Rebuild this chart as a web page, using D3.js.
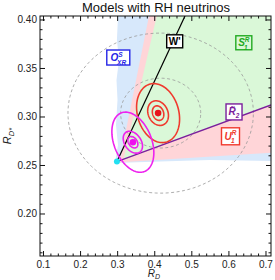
<!DOCTYPE html>
<html><head><meta charset="utf-8">
<script src="https://cdn.jsdelivr.net/npm/d3@7"></script>
<style>body{margin:0;background:#fff}svg{display:block}text{font-family:"Liberation Sans",Arial,sans-serif}</style>
</head><body>
<script>
// ---- data ----
const title = "Models with RH neutrinos";
const xTicks = [0.1, 0.2, 0.3, 0.4, 0.5, 0.6, 0.7];
const yTicks = [0.20, 0.25, 0.30, 0.35, 0.40];
const smPoint = [0.298, 0.254];
const redCenter = [0.409, 0.304];
const redSizes = [[0.058, 0.0304], [0.028, 0.0127], [0.0155, 0.0075]];
const redRho = -0.2;
const magCenter = [0.341, 0.274];
const magSizes = [[0.0566, 0.031], [0.026, 0.0113], [0.0135, 0.0059]];
const magRho = -0.35;
const fitCenter = [0.416, 0.304];
const fitSizes = [[0.108, 0.036], [0.25, 0.0825]];
const blueRegion = [[0.301,0.4041],[0.298,0.3794],[0.3036,0.3588],[0.2969,0.3381],[0.2996,0.3175],[0.2955,0.2918],[0.3009,0.2711],[0.2928,0.2526],[0.4142,0.2541],[0.549,0.2557],[0.7135,0.2546],[0.7135,0.4041]];
const pinkRegion = [[0.3845,0.4041],[0.3063,0.2557],[0.2982,0.2531],[0.7135,0.2632],[0.7135,0.4041]];
const greenRegion = [[0.4053,0.4041],[0.3157,0.2561],[0.7135,0.3124],[0.7135,0.4041]];
const wLine = [[0.298,0.254],[0.4816,0.4041]];
const r2Line = [[0.298,0.254],[0.7135,0.3124]];

// ---- layout ----
const W = 275, H = 280;
const L = 40, R = 271, T = 16, B = 256;
const x = d3.scaleLinear().domain([0.0906, 0.7135]).range([L, R]);
const y = d3.scaleLinear().domain([0.1567, 0.4041]).range([B, T]);

const svg = d3.select("body").append("svg").attr("width", W).attr("height", H);
svg.append("defs").append("clipPath").attr("id","clip")
  .append("rect").attr("x",L).attr("y",T).attr("width",R-L).attr("height",B-T);
const g = svg.append("g").attr("clip-path","url(#clip)");

const line = d3.line().x(d=>x(d[0])).y(d=>y(d[1]));
function ellipse(c, s, rho){
  const pts=[]; for(let i=0;i<=120;i++){const t=i/120*2*Math.PI;
    pts.push([c[0]+s[0]*Math.cos(t), c[1]+s[1]*(rho*Math.cos(t)+Math.sqrt(1-rho*rho)*Math.sin(t))]);}
  return pts;
}

g.append("path").attr("d", line(blueRegion)+"Z").attr("fill","#d7e8fb");
g.append("path").attr("d", line(pinkRegion)+"Z").attr("fill","#ffd5d8");
g.append("path").attr("d", line(greenRegion)+"Z").attr("fill","#daf8d8");

fitSizes.forEach(s=>g.append("path").attr("d", line(ellipse(fitCenter,s,0))+"Z")
  .attr("fill","none").attr("stroke","#999").attr("stroke-width",0.8).attr("stroke-dasharray","3,2.5"));

g.append("path").attr("d", line(wLine)).attr("stroke","#000").attr("stroke-width",1.2).attr("fill","none");
g.append("path").attr("d", line(r2Line)).attr("stroke","#7a1f9c").attr("stroke-width",1.3).attr("fill","none");

redSizes.forEach(s=>g.append("path").attr("d", line(ellipse(redCenter,s,redRho))+"Z")
  .attr("fill","none").attr("stroke","#f03a2e").attr("stroke-width",1.6));
magSizes.forEach(s=>g.append("path").attr("d", line(ellipse(magCenter,s,magRho))+"Z")
  .attr("fill","none").attr("stroke","#ee22ee").attr("stroke-width",1.6));

g.append("circle").attr("cx",x(redCenter[0])).attr("cy",y(redCenter[1])).attr("r",3.3).attr("fill","#e8141c");
g.append("circle").attr("cx",x(magCenter[0])).attr("cy",y(magCenter[1])).attr("r",3.3).attr("fill","#ee10ee");
g.append("circle").attr("cx",x(smPoint[0])).attr("cy",y(smPoint[1])).attr("r",3).attr("fill","#22e0f2");

// ---- labels ----
function box(cx, cy, w, h, color, fill){
  svg.append("rect").attr("x",x(cx)-w/2).attr("y",y(cy)-h/2).attr("width",w).attr("height",h)
    .attr("fill",fill).attr("stroke",color).attr("stroke-width",1.4);
}
function label(cx, cy, color, base, sup, sub, italic){
  const t = svg.append("text").attr("x",x(cx)).attr("y",y(cy)+3.5).attr("text-anchor","middle")
    .attr("fill",color).attr("font-weight","bold").attr("font-size",10).attr("font-style",italic?"italic":"normal");
  t.append("tspan").text(base);
  if(sup){ t.append("tspan").attr("font-size",6.5).attr("dy",-4.5).text(sup); }
  if(sub){ t.append("tspan").attr("font-size",6.5).attr("dx",sup?-5.5:0).attr("dy",sup?8:3).text(sub); }
}
box(0.3017,0.3613,23,15,"#2525e6","#fff"); label(0.3017,0.3613,"#2525e6","O","S","XR",true);
box(0.4538,0.378,16,13,"#000","#fff"); label(0.4538,0.378,"#000","W'",null,null,false);
box(0.6402,0.3765,16,14,"#22aa22","#daf8d8"); label(0.6402,0.3765,"#22aa22","S","R","1",true);
box(0.6138,0.3052,16,16,"#7a1f9c","#fff"); label(0.6138,0.3052,"#7a1f9c","R\u0303",null,"2",true);
box(0.6043,0.2801,18,17,"#f03a2e","#fff"); label(0.6043,0.2801,"#f03a2e","U","R","1",true);

// ---- frame & ticks ----
svg.append("rect").attr("x",L).attr("y",T).attr("width",R-L).attr("height",B-T)
  .attr("fill","none").attr("stroke","#111").attr("stroke-width",1);
const tk = svg.append("g").attr("stroke","#111").attr("stroke-width",1);
const xMinor = d3.range(0.1, 0.7001, 0.02);
const yMinor = d3.range(0.16, 0.4001, 0.01);
xMinor.forEach(v=>{const X=x(v); const m=xTicks.some(t=>Math.abs(t-v)<1e-6)?5:2.5;
  tk.append("line").attr("x1",X).attr("x2",X).attr("y1",B).attr("y2",B-m);
  tk.append("line").attr("x1",X).attr("x2",X).attr("y1",T).attr("y2",T+m);});
yMinor.forEach(v=>{const Y=y(v); const m=yTicks.some(t=>Math.abs(t-v)<1e-6)?5:2.5;
  tk.append("line").attr("y1",Y).attr("y2",Y).attr("x1",L).attr("x2",L+m);
  tk.append("line").attr("y1",Y).attr("y2",Y).attr("x1",R).attr("x2",R-m);});
xTicks.forEach(v=>svg.append("text").attr("x",x(v)).attr("y",B+11.5).attr("text-anchor","middle")
  .attr("font-size",10).attr("fill","#222").text(d3.format(".1f")(v)));
yTicks.forEach(v=>svg.append("text").attr("x",L-3).attr("y",y(v)+3.5).attr("text-anchor","end")
  .attr("font-size",10).attr("fill","#222").text(d3.format(".2f")(v)));

svg.append("text").attr("x",156).attr("y",12).attr("text-anchor","middle").attr("font-size",13).attr("fill","#111").text(title);
const xl = svg.append("text").attr("x",154).attr("y",277).attr("text-anchor","middle").attr("font-size",10).attr("font-style","italic").attr("fill","#222");
xl.append("tspan").text("R"); xl.append("tspan").attr("font-size",7).attr("dy",2).text("D");
const yl = svg.append("text").attr("transform","translate(11,136) rotate(-90)").attr("text-anchor","middle").attr("font-size",11).attr("font-style","italic").attr("fill","#222");
yl.append("tspan").text("R"); yl.append("tspan").attr("font-size",7.5).attr("dy",2.5).text("D*");
</script>
</body></html>
